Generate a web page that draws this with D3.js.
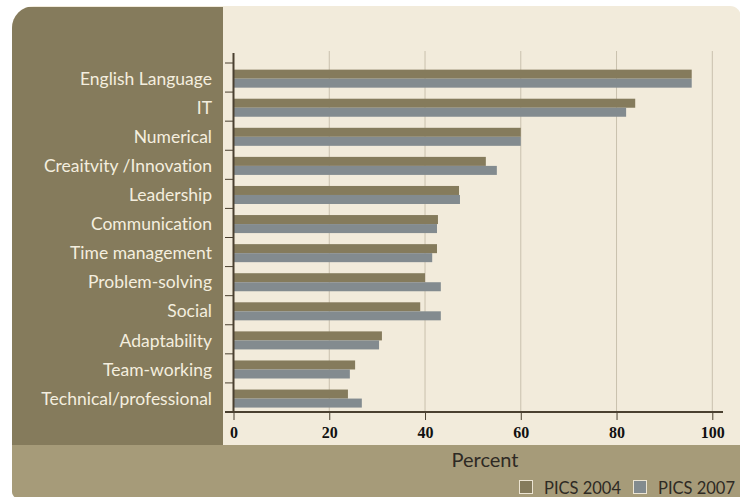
<!DOCTYPE html>
<html>
<head>
<meta charset="utf-8">
<script src="https://cdn.jsdelivr.net/npm/d3@7"></script>
<style>
  html, body { margin: 0; padding: 0; background: #ffffff; }
  svg { display: block; }
  text { font-variant-ligatures: none; }
</style>
</head>
<body>
<svg id="chart" width="740" height="497"></svg>
<script>
// Skills categories, top to bottom
const categories = [
  "English Language", "IT", "Numerical", "Creaitvity /Innovation", "Leadership",
  "Communication", "Time management", "Problem-solving", "Social",
  "Adaptability", "Team-working", "Technical/professional"
];
// Share of respondents (percent)
const pics2004 = [95.7, 83.9, 60, 52.7, 47.1, 42.7, 42.5, 40.0, 39.0, 31.0, 25.4, 23.9];
const pics2007 = [95.7, 82.0, 60, 55.0, 47.3, 42.5, 41.5, 43.3, 43.3, 30.4, 24.3, 26.8];
const seriesNames = ["PICS 2004", "PICS 2007"];
const xTicks = [0, 20, 40, 60, 80, 100];
const xTitle = "Percent";

const colors = {
  panelDark: "#857b5c",
  cream: "#f2ebdb",
  band: "#a69b79",
  bar2004: "#857b5c",
  bar2007: "#838b8f",
  grid: "#c9c0ad",
  axis: "#4a4030",
  label: "#f4eedf",
  text: "#2e2a24"
};
const sans = "Lato, 'Open Sans', sans-serif";

const svg = d3.select("#chart");

// Outer card with rounded corners (top-left large, top-right small, bottom-left small)
function roundedPath(x0, y0, x1, y1, rtl, rtr, rbr, rbl) {
  const p = d3.path();
  p.moveTo(x0 + rtl, y0);
  p.lineTo(x1 - rtr, y0);
  p.arcTo(x1, y0, x1, y0 + rtr, rtr);
  p.lineTo(x1, y1 - rbr);
  p.arcTo(x1, y1, x1 - rbr, y1, rbr);
  p.lineTo(x0 + rbl, y1);
  p.arcTo(x0, y1, x0, y1 - rbl, rbl);
  p.lineTo(x0, y0 + rtl);
  p.arcTo(x0, y0, x0 + rtl, y0, rtl);
  p.closePath();
  return p.toString();
}

const card = { x0: 12, y0: 6, x1: 741, y1: 498, panelRight: 223, bandTop: 445 };

svg.append("defs").append("clipPath").attr("id", "cardClip")
  .append("path")
  .attr("d", roundedPath(card.x0, card.y0, card.x1, card.y1, 22, 11, 0, 6));

const bg = svg.append("g").attr("clip-path", "url(#cardClip)");
bg.append("rect").attr("x", card.x0).attr("y", card.y0)
  .attr("width", card.x1 - card.x0).attr("height", card.y1 - card.y0)
  .attr("fill", colors.cream);
bg.append("rect").attr("x", card.x0).attr("y", card.y0 + 1)
  .attr("width", card.panelRight - card.x0).attr("height", card.bandTop - card.y0 - 1)
  .attr("fill", colors.panelDark);
bg.append("rect").attr("x", card.x0).attr("y", card.bandTop)
  .attr("width", card.x1 - card.x0).attr("height", card.y1 - card.bandTop)
  .attr("fill", colors.band);

// Scales
const x = d3.scaleLinear().domain([0, 100]).range([233.5, 712.3]);
const y0 = d3.scaleBand().domain(categories).range([63, 412])
  .paddingInner(0.38).paddingOuter(0.19).align(0.6);
const y1 = d3.scaleBand().domain(seriesNames).range([0, y0.bandwidth()]);

const plotTop = 51, plotBottom = 412;

// Vertical gridlines
svg.append("g").selectAll("line")
  .data(xTicks.filter(d => d > 0))
  .join("line")
  .attr("x1", d => x(d)).attr("x2", d => x(d))
  .attr("y1", plotTop).attr("y2", plotBottom)
  .attr("stroke", colors.grid).attr("stroke-width", 1);

// Bars
const rows = categories.map((c, i) => ({ c, vals: [pics2004[i], pics2007[i]] }));
const barColors = [colors.bar2004, colors.bar2007];
svg.append("g").selectAll("g")
  .data(rows)
  .join("g")
  .attr("transform", d => `translate(0,${y0(d.c)})`)
  .selectAll("rect")
  .data(d => d.vals.map((v, k) => ({ v, k })))
  .join("rect")
  .attr("x", x(0))
  .attr("y", d => y1(seriesNames[d.k]))
  .attr("width", d => x(d.v) - x(0))
  .attr("height", y1.bandwidth())
  .attr("fill", d => barColors[d.k]);

// Category tick marks on the left of the value axis (band boundaries)
const step = y0.step();
svg.append("g").selectAll("line")
  .data(d3.range(categories.length))
  .join("line")
  .attr("x1", 225).attr("x2", x(0))
  .attr("y1", i => 63 + i * step).attr("y2", i => 63 + i * step)
  .attr("stroke", colors.axis).attr("stroke-width", 1);

// Category labels
svg.append("g").selectAll("text")
  .data(categories)
  .join("text")
  .attr("x", 212)
  .attr("y", d => y0(d) + y0.bandwidth() / 2)
  .attr("dy", "0.35em")
  .attr("text-anchor", "end")
  .attr("font-family", sans)
  .attr("font-size", 17.5)
  .attr("fill", colors.label)
  .text(d => d);

// Value axis (bottom)
const xAxis = d3.axisBottom(x).tickValues(xTicks).tickSize(8).tickSizeOuter(0).tickPadding(7);
const gx = svg.append("g").attr("transform", `translate(0,${plotBottom})`).call(xAxis);
gx.select(".domain").remove();
gx.selectAll(".tick line").attr("stroke", colors.axis).attr("stroke-width", 1);
gx.selectAll(".tick text")
  .attr("font-family", "'Liberation Serif', serif")
  .attr("font-weight", "bold")
  .attr("font-size", 16)
  .attr("fill", "#111");
gx.append("line")
  .attr("x1", 225).attr("x2", 723)
  .attr("y1", 0).attr("y2", 0)
  .attr("stroke", colors.axis).attr("stroke-width", 2);

// Category axis line
svg.append("line")
  .attr("x1", x(0)).attr("x2", x(0))
  .attr("y1", 53).attr("y2", plotBottom)
  .attr("stroke", colors.axis).attr("stroke-width", 2);

// Axis title
svg.append("text")
  .attr("x", 485).attr("y", 467)
  .attr("text-anchor", "middle")
  .attr("font-family", sans)
  .attr("font-size", 20)
  .attr("fill", colors.text)
  .text(xTitle);

// Legend
const legend = svg.append("g");
const legendX = [519, 633];
seriesNames.forEach((name, k) => {
  legend.append("rect")
    .attr("x", legendX[k] + 0.5).attr("y", 480.5)
    .attr("width", 13).attr("height", 13)
    .attr("fill", barColors[k])
    .attr("stroke", "#ece4d2").attr("stroke-width", 1);
  legend.append("text")
    .attr("x", legendX[k] + 25).attr("y", 493.5)
    .attr("font-family", sans)
    .attr("font-size", 16.5)
    .attr("fill", colors.text)
    .text(name);
});
</script>
</body>
</html>
